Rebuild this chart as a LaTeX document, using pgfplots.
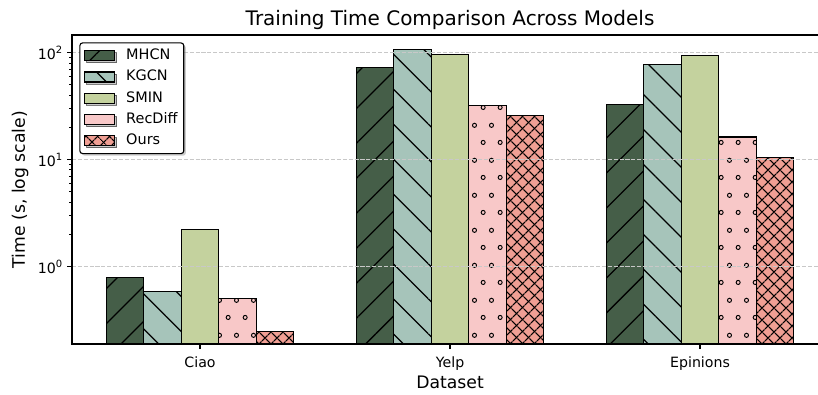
\documentclass[border=0pt]{standalone}
\usepackage{fontspec}
\setmainfont{DejaVu Sans}
\usepackage{pgfplots}
\pgfplotsset{compat=1.18}
\usetikzlibrary{patterns.meta,shadows}

\definecolor{cMHCN}{HTML}{455E48}
\definecolor{cKGCN}{HTML}{A6C4BA}
\definecolor{cSMIN}{HTML}{C4D29E}
\definecolor{cRecDiff}{HTML}{F8C8C8}
\definecolor{cOurs}{HTML}{F09F94}
\definecolor{gridgray}{HTML}{C8C8C8}

% staggered small open circles
\pgfdeclarepattern{
  name=rings,
  type=uncolored,
  bottom left={\pgfpoint{0pt}{0pt}},
  top right={\pgfpoint{12.46pt}{24.92pt}},
  tile size={\pgfpoint{12.46pt}{24.92pt}},
  code={
    \pgfsetlinewidth{0.7pt}
    \pgfpathcircle{\pgfpoint{3.115pt}{6.23pt}}{1.5pt}
    \pgfpathcircle{\pgfpoint{9.345pt}{18.69pt}}{1.5pt}
    \pgfusepath{stroke}
  }
}

\newcommand{\tenpow}[1]{10\raisebox{0.42em}{\fontsize{7.2pt}{8pt}\selectfont #1}}

\pgfplotsset{
  barbase/.style={draw=black, line width=0.8pt,
    legend image code/.code={\draw[##1, sharp corners, line width=0.8pt] (0pt,-3.6pt) rectangle (21.6pt,3.6pt);}},
}

\begin{document}
\begin{tikzpicture}
\path[use as bounding box] (-51.8pt,-36.5pt) rectangle (537.2pt,247.9pt);
\begin{axis}[
  at={(0pt,0pt)}, anchor=south west,
  scale only axis, width=544.5pt, height=222.9pt,
  ymode=log, log origin=infty,
  ymin=0.187, ymax=147.5,
  xmin=-0.5125, xmax=2.5125,
  ybar, bar width=0.15,
  xtick={0,1,2}, xticklabels={Ciao,Yelp,Epinions},
  ytick={1,10,100}, yticklabels={\tenpow{0},\tenpow{1},\tenpow{2}},
  tick pos=left, tick align=outside,
  major tick length=3.5pt, minor tick length=2pt,
  every major tick/.append style={line width=0.9pt, black},
  every minor tick/.append style={line width=0.7pt, black},
  axis line style={line width=1.2pt},
  ymajorgrids,
  major grid style={gridgray, line width=0.8pt, dash pattern=on 2.96pt off 1.28pt},
  axis on top,
  tick label style={font=\fontsize{10.2}{12}\selectfont},
  xticklabel style={anchor=base, yshift=-12.9pt},
  title={Training Time Comparison Across Models},
  title style={font=\fontsize{14.4}{17}\selectfont, at={(axis description cs:0.5,1)}, anchor=base, yshift=0.5pt},
  xlabel={Dataset},
  xlabel style={font=\fontsize{12.4}{14}\selectfont, at={(axis description cs:0.5,0)}, anchor=base, yshift=-31.7pt},
  ylabel={Time (s, log scale)},
  ylabel style={font=\fontsize{12.4}{14}\selectfont, at={(axis description cs:-0.0686,0.5)}, anchor=center},
  legend cell align=left,
  legend style={
    at={(axis description cs:0,1)}, anchor=north west, xshift=5.3pt, yshift=-5.5pt,
    draw=black, line width=0.8pt, fill=white, rounded corners=2pt,
    drop shadow={shadow xshift=1.5pt, shadow yshift=-1.5pt, fill=black!40},
    font=\fontsize{10.4}{12}\selectfont,
    inner xsep=3pt, inner ysep=3pt, row sep=2.8pt,
    nodes={inner sep=1.5pt, text height=7.5pt, text depth=2pt},
    /tikz/every odd column/.append style={column sep=6.5pt},
  },
]
\addplot[barbase, fill=cMHCN, bar shift=-0.3,
  postaction={pattern={Lines[angle=45,distance=17.8pt,line width=0.9pt]}, pattern color=black}]
  coordinates {(0,0.79) (1,73) (2,33)};
\addlegendentry{MHCN}
\addplot[barbase, fill=cKGCN, bar shift=-0.15,
  postaction={pattern={Lines[angle=-45,distance=17.8pt,line width=0.9pt]}, pattern color=black}]
  coordinates {(0,0.58) (1,108) (2,78)};
\addlegendentry{KGCN}
\addplot[barbase, fill=cSMIN, bar shift=0]
  coordinates {(0,2.21) (1,97) (2,95)};
\addlegendentry{SMIN}
\addplot[barbase, fill=cRecDiff, bar shift=0.15,
  postaction={pattern=rings, pattern color=black}]
  coordinates {(0,0.50) (1,32.3) (2,16.3)};
\addlegendentry{RecDiff}
\addplot[barbase, fill=cOurs, bar shift=0.3,
  postaction={pattern={Lines[angle=45,distance=5.85pt,line width=0.9pt]}, pattern color=black},
  postaction={pattern={Lines[angle=-45,distance=5.85pt,line width=0.9pt]}, pattern color=black}]
  coordinates {(0,0.248) (1,26.1) (2,10.5)};
\addlegendentry{Ours}
\end{axis}
\end{tikzpicture}
\end{document}
